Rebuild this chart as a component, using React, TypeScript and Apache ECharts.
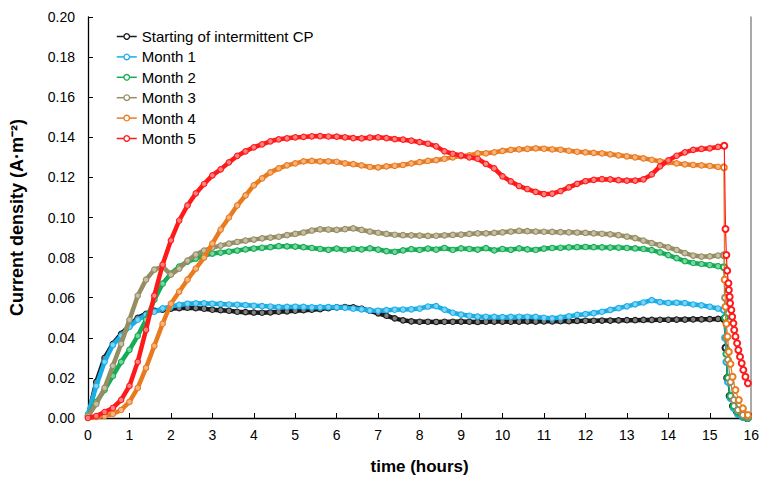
import React, { useEffect, useRef } from "react";
import * as echarts from "echarts";

// Sampling grid (hours) for the main part of each run: 0.0, 0.2, ... 15.2
const hours: number[] = Array.from({ length: 77 }, (_, i) => Math.round(i * 2) / 10);

const xTicks = [0, 16, 1];
const yTicks = [0, 0.2, 0.02];

const seriesNames = [
  "Starting of intermittent CP",
  "Month 1",
  "Month 2",
  "Month 3",
  "Month 4",
  "Month 5",
];

const seriesColors = ["#1a1a1a", "#19aee8", "#12ad55", "#968d62", "#ea7a1e", "#ff1a1a"];

// Current density (A·m-2) on the grid above
const startingCP = [
  0.001, 0.018, 0.030, 0.037, 0.042, 0.046, 0.050, 0.052, 0.0535, 0.054,
  0.0545, 0.0548, 0.055, 0.0548, 0.0545, 0.054, 0.0538, 0.0535, 0.053, 0.0528,
  0.0526, 0.0525, 0.0527, 0.053, 0.0532, 0.0535, 0.0538, 0.054, 0.0543, 0.0548,
  0.0552, 0.0553, 0.0552, 0.0545, 0.0535, 0.0522, 0.051, 0.0497, 0.0487, 0.0482,
  0.048, 0.048, 0.0479, 0.048, 0.048, 0.0481, 0.048, 0.0479, 0.048, 0.0481,
  0.0481, 0.048, 0.0481, 0.0482, 0.0481, 0.0482, 0.0482, 0.0483, 0.0483, 0.0484,
  0.0485, 0.0485, 0.0486, 0.0486, 0.0487, 0.0488, 0.0488, 0.0489, 0.0489, 0.049,
  0.049, 0.0491, 0.0491, 0.0492, 0.0492, 0.0493, 0.0494,
];

const month1 = [
  0.002, 0.016, 0.028, 0.0364, 0.041, 0.0455, 0.049, 0.0514, 0.053, 0.0547,
  0.0557, 0.0564, 0.057, 0.0572, 0.0572, 0.057, 0.0568, 0.0566, 0.0565, 0.0563,
  0.056, 0.0558, 0.0556, 0.0553, 0.0554, 0.0555, 0.0554, 0.0552, 0.0552, 0.0553,
  0.0552, 0.055, 0.0546, 0.0542, 0.0536, 0.0535, 0.0538, 0.054, 0.0541, 0.0542,
  0.0546, 0.0556, 0.0558, 0.054, 0.0525, 0.0516, 0.051, 0.0506, 0.0505, 0.0504,
  0.0503, 0.0504, 0.0505, 0.0505, 0.0504, 0.05, 0.0497, 0.0501, 0.0507, 0.0514,
  0.0518, 0.0523, 0.053, 0.0539, 0.0548, 0.0557, 0.0567, 0.0576, 0.0588, 0.0578,
  0.0574, 0.0575, 0.0573, 0.0566, 0.0562, 0.0555, 0.0546,
];

const month2 = [
  0.001, 0.008, 0.014, 0.021, 0.028, 0.034, 0.041, 0.049, 0.059, 0.067,
  0.072, 0.0755, 0.078, 0.0795, 0.081, 0.082, 0.0825, 0.083, 0.0835, 0.0841,
  0.0845, 0.0849, 0.0852, 0.0857, 0.0856, 0.0855, 0.0852, 0.0848, 0.0843, 0.0839,
  0.0845, 0.0838, 0.0844, 0.0841, 0.0846, 0.084, 0.0832, 0.0829, 0.0836, 0.0842,
  0.0838, 0.0845, 0.084, 0.0848, 0.0838, 0.0846, 0.0843, 0.084, 0.0847, 0.0836,
  0.0843, 0.0839, 0.0846, 0.0841, 0.0838, 0.0845, 0.0848, 0.0849, 0.0851, 0.0852,
  0.0853, 0.0852, 0.0851, 0.085, 0.085, 0.0848, 0.0846, 0.0843, 0.0837, 0.0826,
  0.0812, 0.0797, 0.0782, 0.0773, 0.0768, 0.0763, 0.0757,
];

const month3 = [
  0.001, 0.007, 0.015, 0.026, 0.037, 0.049, 0.061, 0.069, 0.074, 0.0755,
  0.0715, 0.0745, 0.0785, 0.0815, 0.0835, 0.085, 0.086, 0.087, 0.0878, 0.0885,
  0.089, 0.0896, 0.09, 0.0904, 0.0912, 0.0918, 0.0925, 0.0935, 0.0941, 0.094,
  0.0938, 0.0942, 0.0946, 0.0938, 0.093, 0.0924, 0.0918, 0.0914, 0.0912, 0.0911,
  0.091, 0.0908, 0.0909, 0.0911, 0.0913, 0.0915, 0.0918, 0.0921, 0.0921, 0.0923,
  0.0926, 0.093, 0.0933, 0.0932, 0.093, 0.0929, 0.0928, 0.0927, 0.0926, 0.0925,
  0.0923, 0.0921, 0.0919, 0.0916, 0.0912, 0.0905, 0.0897, 0.0885, 0.0872, 0.0862,
  0.0851, 0.0838, 0.0822, 0.081, 0.0805, 0.0806, 0.081,
];

const month4 = [
  0, 0.0005, 0.001, 0.002, 0.004, 0.008, 0.015, 0.025, 0.036, 0.047,
  0.057, 0.063, 0.069, 0.0745, 0.08, 0.087, 0.094, 0.1, 0.106, 0.111,
  0.116, 0.1195, 0.1225, 0.1245, 0.126, 0.127, 0.128, 0.1282, 0.128, 0.128,
  0.1278, 0.127, 0.1266, 0.126, 0.1252, 0.125, 0.1255, 0.1258, 0.1262, 0.127,
  0.1276, 0.1282, 0.1286, 0.1293, 0.13, 0.1306, 0.131, 0.132, 0.132, 0.1325,
  0.1332, 0.1337, 0.134, 0.1342, 0.1345, 0.1343, 0.134, 0.1338, 0.1333, 0.1328,
  0.1325, 0.1322, 0.132, 0.1315, 0.131, 0.1305, 0.13, 0.1295, 0.1288, 0.128,
  0.1276, 0.127, 0.1265, 0.1262, 0.126, 0.1257, 0.1253,
];

const month5 = [
  0, 0.001, 0.003, 0.005, 0.009, 0.016, 0.028, 0.044, 0.061, 0.0765,
  0.0886, 0.0985, 0.106, 0.112, 0.1167, 0.121, 0.124, 0.1275, 0.1307, 0.133,
  0.135, 0.1365, 0.138, 0.139, 0.1395, 0.14, 0.1402, 0.1405, 0.1406, 0.1404,
  0.1403, 0.14, 0.1396, 0.1395, 0.1398, 0.14, 0.1396, 0.1391, 0.1388, 0.1383,
  0.1376, 0.1368, 0.1355, 0.133, 0.1318, 0.131, 0.13, 0.1293, 0.1267, 0.1245,
  0.1205, 0.118, 0.1157, 0.1142, 0.1128, 0.1117, 0.1119, 0.1132, 0.115, 0.1168,
  0.1181, 0.1188, 0.1191, 0.119, 0.1186, 0.1184, 0.1184, 0.119, 0.1215, 0.1255,
  0.1285, 0.1308, 0.1325, 0.1337, 0.1342, 0.1345, 0.1352,
];

// Decay after the protection current is switched off: [hours, A·m-2]
const startingCPTail = [
  [15.34, 0.0494], [15.38, 0.035], [15.42, 0.02], [15.48, 0.011], [15.56, 0.006],
  [15.66, 0.003], [15.78, 0.001], [15.9, 0.0],
];
const month1Tail = [
  [15.34, 0.054], [15.37, 0.04], [15.4, 0.028], [15.44, 0.018], [15.5, 0.01],
  [15.58, 0.005], [15.68, 0.002], [15.8, 0.0005], [15.92, 0],
];
const month2Tail = [
  [15.34, 0.0752], [15.37, 0.05], [15.4, 0.032], [15.44, 0.02], [15.5, 0.011],
  [15.58, 0.006], [15.68, 0.003], [15.8, 0.001], [15.92, 0],
];
const month3Tail = [
  [15.34, 0.0812], [15.37, 0.06], [15.4, 0.04], [15.44, 0.029], [15.5, 0.018],
  [15.58, 0.009], [15.68, 0.004], [15.8, 0.0015], [15.92, 0.0005],
];
const month4Tail = [
  [15.34, 0.125], [15.36, 0.069], [15.38, 0.0555], [15.4, 0.047], [15.43, 0.0406],
  [15.46, 0.033], [15.5, 0.027], [15.55, 0.0206], [15.62, 0.014], [15.7, 0.009],
  [15.8, 0.0048], [15.92, 0.0015],
];
const month5Tail = [
  [15.35, 0.1358], [15.38, 0.0943], [15.4, 0.0813], [15.42, 0.0735], [15.45, 0.0672],
  [15.46, 0.0638], [15.48, 0.0605], [15.49, 0.0572], [15.52, 0.0539], [15.54, 0.0505],
  [15.57, 0.0472], [15.59, 0.0439], [15.62, 0.0406], [15.66, 0.0373], [15.69, 0.0339],
  [15.73, 0.0306], [15.77, 0.0273], [15.81, 0.024], [15.86, 0.0206], [15.92, 0.0173],
];

const mainValues = [startingCP, month1, month2, month3, month4, month5];
const tails = [startingCPTail, month1Tail, month2Tail, month3Tail, month4Tail, month5Tail];

const FONT = "'Liberation Sans', Arial, sans-serif";

// Lighten a #rrggbb colour towards white by the given share
function tint(hex: string, share: number): string {
  const n = parseInt(hex.slice(1), 16);
  const ch = [(n >> 16) & 255, (n >> 8) & 255, n & 255].map((c) =>
    Math.round(c + (255 - c) * share)
  );
  return "rgb(" + ch.join(",") + ")";
}

export default function App() {
  const ref = useRef<HTMLDivElement>(null);

  useEffect(() => {
    if (!ref.current) return;
    const chart = echarts.init(ref.current, undefined, { renderer: "svg" });

    const series: any[] = [];
    seriesNames.forEach((name, i) => {
      const color = seriesColors[i];
      const main = hours.map((h, k) => [h, mainValues[i][k]]);
      main.push(tails[i][0]);
      series.push({
        name,
        type: "line",
        data: main,
        symbol: "circle",
        symbolSize: 5.5,
        showSymbol: true,
        color,
        lineStyle: { width: 4.5, color },
        itemStyle: { color: tint(color, 0.45), borderColor: color, borderWidth: 1.1 },
        z: 2 + i,
      });
      series.push({
        name,
        type: "line",
        data: tails[i],
        symbol: "emptyCircle",
        symbolSize: 6,
        showSymbol: true,
        color,
        lineStyle: { width: 1.2, color },
        itemStyle: { color, borderColor: color, borderWidth: 1.3 },
        z: 2 + i,
      });
    });

    chart.setOption({
      animation: false,
      backgroundColor: "#ffffff",
      textStyle: { fontFamily: FONT },
      grid: { left: 88, right: 8, top: 17, bottom: 64, containLabel: false },
      legend: {
        data: seriesNames,
        orient: "vertical",
        left: 111,
        top: 23,
        itemWidth: 20,
        itemHeight: 7,
        itemGap: 3.4,
        lineStyle: { width: 1.5 },
        itemStyle: { color: "#ffffff", borderColor: "inherit", borderWidth: 1.3 },
        textStyle: { fontSize: 15, color: "#000", fontFamily: FONT, lineHeight: 17 },
      },
      xAxis: {
        type: "value",
        min: xTicks[0],
        max: xTicks[1],
        interval: xTicks[2],
        name: "time (hours)",
        nameLocation: "middle",
        nameGap: 40,
        nameTextStyle: { fontSize: 17, fontWeight: "bold", color: "#000", fontFamily: FONT },
        axisLine: { show: true, lineStyle: { color: "#000", width: 1.3 } },
        axisTick: { show: true, inside: true, length: 5, lineStyle: { color: "#000" } },
        axisLabel: { fontSize: 14, color: "#000", margin: 10, fontFamily: FONT },
        splitLine: { show: false },
      },
      yAxis: [
        {
          type: "value",
          min: yTicks[0],
          max: yTicks[1],
          interval: yTicks[2],
          name: "Current density (A·m⁻²)",
          nameLocation: "middle",
          nameGap: 62,
          nameTextStyle: { fontSize: 18, fontWeight: "bold", color: "#000", fontFamily: FONT },
          axisLine: { show: true, lineStyle: { color: "#000", width: 1.3 } },
          axisTick: { show: true, inside: true, length: 5, lineStyle: { color: "#000" } },
          axisLabel: {
            fontSize: 14,
            color: "#000",
            margin: 13,
            fontFamily: FONT,
            formatter: (v: number) => v.toFixed(2),
          },
          splitLine: { show: false },
        },
        {
          type: "value",
          position: "right",
          min: yTicks[0],
          max: yTicks[1],
          interval: yTicks[2],
          axisLine: { show: true, lineStyle: { color: "#8c8c8c", width: 1.5 } },
          axisTick: { show: false },
          axisLabel: { show: false },
          splitLine: { show: false },
        },
      ],
      series,
    });

    return () => chart.dispose();
  }, []);

  return (
    <div
      ref={ref}
      style={{ position: "fixed", left: 0, top: 0, width: 762, height: 482, background: "#fff" }}
    />
  );
}
